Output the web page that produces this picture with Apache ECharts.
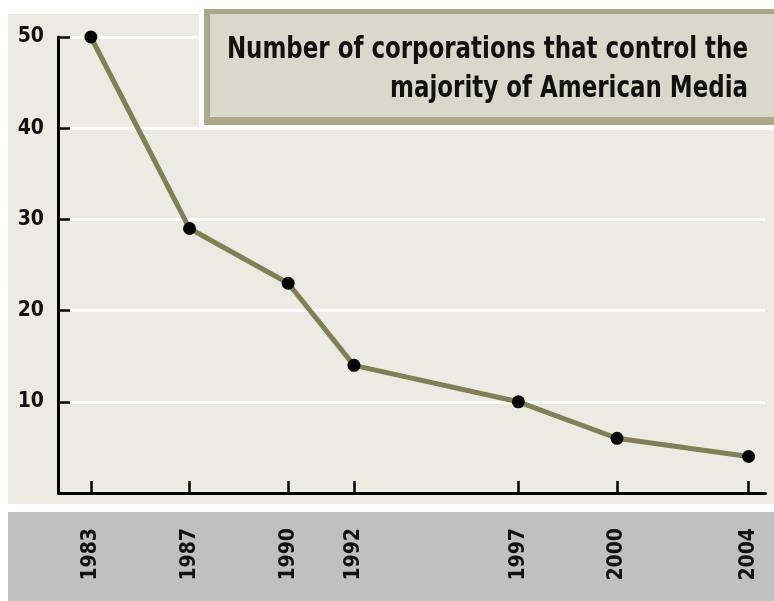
<!DOCTYPE html>
<html>
<head>
<meta charset="utf-8">
<script src="https://cdn.jsdelivr.net/npm/echarts@6/dist/echarts.min.js"></script>
<style>
  html, body { margin: 0; padding: 0; background: #ffffff; }
  #chart { width: 774px; height: 601px; }
</style>
</head>
<body>
<div id="chart"></div>
<script>
// ---- data ----
const years = [1983, 1987, 1990, 1992, 1997, 2000, 2004];
const corporations = [50, 29, 23, 14, 10, 6, 4];
const yTicks = [10, 20, 30, 40, 50];
const titleLines = ['Number of corporations that control the', 'majority of American Media'];

const FONT = '"DejaVu Sans Condensed", "DejaVu Sans", sans-serif';

const chart = echarts.init(document.getElementById('chart'), null, { renderer: 'canvas' });

const seriesData = years.map((y, i) => [y, corporations[i]]);

chart.setOption({
  backgroundColor: '#ffffff',
  animation: false,
  graphic: {
    elements: [
      { type: 'rect', z: -10, silent: true, shape: { x: 8, y: 14, width: 766, height: 490 }, style: { fill: '#ebeae3' } },
      { type: 'rect', z: -10, silent: true, shape: { x: 8, y: 512, width: 766, height: 89 }, style: { fill: '#c0c0c0' } },
      { type: 'rect', z: 100, silent: true, shape: { x: 199, y: 0, width: 575, height: 130 }, style: { fill: '#ffffff' } },
      { type: 'rect', z: 101, silent: true, shape: { x: 204, y: 9, width: 570, height: 116 }, style: { fill: '#a9a88a' } },
      { type: 'rect', z: 102, silent: true, shape: { x: 210, y: 14, width: 564, height: 103 }, style: { fill: '#d9d9cb' } },
      { type: 'text', z: 103, silent: true, x: 748, y: 30, scaleX: 0.823, scaleY: 1, style: {
          x: 0, y: 0, text: titleLines.join('\n'),
          textAlign: 'right', textVerticalAlign: 'top',
          font: 'bold 31px ' + FONT, lineHeight: 39, fill: '#111111'
      } }
    ]
  },
  grid: { left: 58, right: 9, top: 37, bottom: 108, containLabel: false },
  xAxis: {
    type: 'value',
    min: 1982,
    max: 2004.5,
    breaks: [{ start: 1983.5, end: 1984.5, gap: 0 }],
    breakArea: { show: false },
    axisLine: { show: true, onZero: false, lineStyle: { color: '#000000', width: 3 } },
    axisTick: { show: true, inside: true, length: 12, customValues: years, lineStyle: { color: '#000000', width: 2.5 } },
    axisLabel: {
      show: true, customValues: years, rotate: 90, margin: 35,
      formatter: v => String(v),
      color: '#111111', fontFamily: FONT, fontWeight: 'bold', fontSize: 21
    },
    splitLine: { show: false }
  },
  yAxis: {
    type: 'value',
    min: 0, max: 50, interval: 10,
    axisLine: { show: true, lineStyle: { color: '#000000', width: 3 } },
    axisTick: { show: true, inside: true, length: 12, lineStyle: { color: '#000000', width: 2.5 } },
    axisLabel: {
      margin: 14,
      formatter: v => (yTicks.indexOf(v) >= 0 ? String(v) : ''),
      color: '#111111', fontFamily: FONT, fontWeight: 'bold', fontSize: 21
    },
    splitLine: { show: true, lineStyle: { color: '#ffffff', width: 3 } }
  },
  series: [{
    type: 'line',
    data: seriesData,
    lineStyle: { color: '#807f55', width: 5 },
    symbol: 'circle',
    symbolSize: 13,
    itemStyle: { color: '#000000', borderWidth: 0 },
    z: 5
  }]
});
</script>
</body>
</html>
